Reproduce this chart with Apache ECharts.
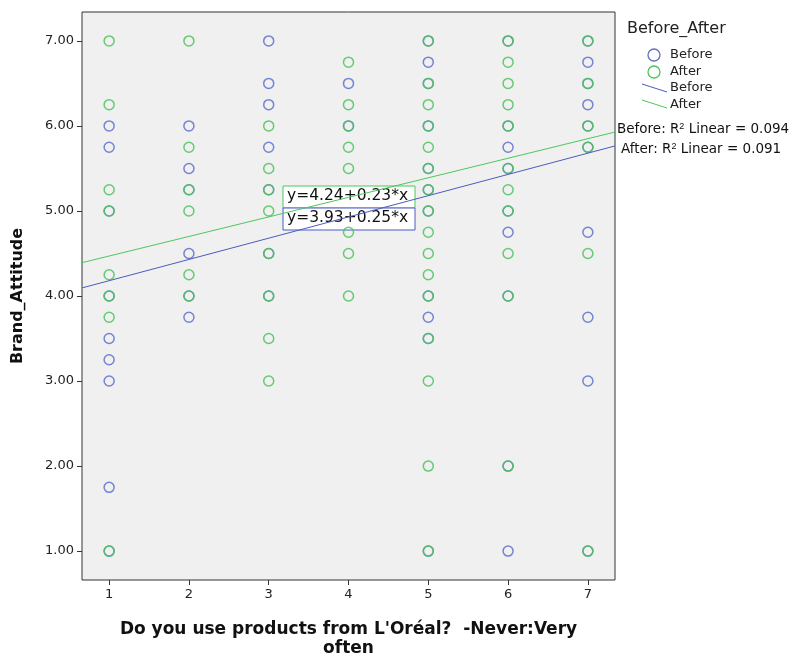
<!DOCTYPE html>
<html><head><meta charset="utf-8">
<script src="https://cdn.jsdelivr.net/npm/echarts@6/dist/echarts.min.js"></script>
<style>html,body{margin:0;padding:0;background:#fff}#c{width:799px;height:657px}</style>
</head><body><div id="c"></div>
<script>
// x = usage frequency (1..7), y = Brand_Attitude
const beforeX = [1,1,1,1,1,1,1,1,1, 2,2,2,2,2,2, 3,3,3,3,3,3,3, 4,4, 5,5,5,5,5,5,5,5,5,5,5, 6,6,6,6,6,6,6,6,6, 7,7,7,7,7,7,7,7,7,7];
const beforeY = [6.0,5.75,5.0,4.0,3.5,3.25,3.0,1.75,1.0, 6.0,5.5,5.25,4.5,4.0,3.75, 7.0,6.5,6.25,5.75,5.25,4.5,4.0, 6.5,6.0, 7.0,6.75,6.5,6.0,5.5,5.25,5.0,4.0,3.75,3.5,1.0, 7.0,6.0,5.75,5.5,5.0,4.75,4.0,2.0,1.0, 7.0,6.75,6.5,6.25,6.0,5.75,4.75,3.75,3.0,1.0];
const afterX = [1,1,1,1,1,1,1,1, 2,2,2,2,2,2, 3,3,3,3,3,3,3,3, 4,4,4,4,4,4,4,4, 5,5,5,5,5,5,5,5,5,5,5,5,5,5,5,5, 6,6,6,6,6,6,6,6,6,6,6, 7,7,7,7,7,7];
const afterY = [7.0,6.25,5.25,5.0,4.25,4.0,3.75,1.0, 7.0,5.75,5.25,5.0,4.25,4.0, 6.0,5.5,5.25,5.0,4.5,4.0,3.5,3.0, 6.75,6.25,6.0,5.75,5.5,4.75,4.5,4.0, 7.0,6.5,6.25,6.0,5.75,5.5,5.25,5.0,4.75,4.5,4.25,4.0,3.5,3.0,2.0,1.0, 7.0,6.75,6.5,6.25,6.0,5.5,5.25,5.0,4.5,4.0,2.0, 7.0,6.5,6.0,5.75,4.5,1.0];
const fitBefore = [3.93, 0.25]; // intercept, slope
const fitAfter = [4.24, 0.23];
const xTicks = [1,2,3,4,5,6,7];
const yTicks = [1,2,3,4,5,6,7];
const r2Labels = ['Before: R{s|2} Linear = 0.094', 'After: R{s|2} Linear = 0.091'];
const eqLabels = ['y=4.24+0.23*x', 'y=3.93+0.25*x'];

const XMIN = 0.66, XMAX = 7.34;
const blue = '#5f70cc', green = '#4cc45a';
const font = 'DejaVu Sans';
const zip = (a,b)=>a.map((v,i)=>[v,b[i]]);
const fitLine = f => [[XMIN, f[0]+f[1]*XMIN],[XMAX, f[0]+f[1]*XMAX]];

const chart = echarts.init(document.getElementById('c'));
chart.setOption({
  animation:false,
  backgroundColor:'#fff',
  grid:{left:82,right:184,top:12,bottom:77,outerBoundsMode:'none',containLabel:false,show:true,backgroundColor:'#f0f0f0',borderColor:'#333',borderWidth:1},
  xAxis:{type:'value',min:XMIN,max:XMAX,
    axisLine:{show:false},splitLine:{show:false},
    axisTick:{show:true,customValues:xTicks,length:5,lineStyle:{color:'#333'}},
    axisLabel:{customValues:xTicks,color:'#222',fontFamily:font,fontSize:13,margin:8},
    name:"Do you use products from L'Oréal?  -Never:Very\noften",nameLocation:'middle',nameGap:40,
    nameTextStyle:{fontFamily:font,fontWeight:'bold',fontSize:17,color:'#111',lineHeight:19}},
  yAxis:{type:'value',min:0.66,max:7.34,
    axisLine:{show:false},splitLine:{show:false},
    axisTick:{show:true,customValues:yTicks,length:5,lineStyle:{color:'#333'}},
    axisLabel:{customValues:yTicks,color:'#222',fontFamily:font,fontSize:13,margin:8,formatter:v=>v.toFixed(2)},
    name:'Brand_Attitude',nameLocation:'middle',nameGap:56,
    nameTextStyle:{fontFamily:font,fontWeight:'bold',fontSize:16,color:'#111'}},
  series:[
    {type:'scatter',name:'Before',data:zip(beforeX,beforeY),symbol:'circle',symbolSize:10,
      itemStyle:{color:'rgba(0,0,0,0)',borderColor:blue,borderWidth:1.5,opacity:0.85}},
    {type:'scatter',name:'After',data:zip(afterX,afterY),symbol:'circle',symbolSize:10,
      itemStyle:{color:'rgba(0,0,0,0)',borderColor:green,borderWidth:1.5,opacity:0.85}},
    {type:'line',data:fitLine(fitBefore),symbol:'none',lineStyle:{color:'#4a5cc0',width:1},silent:true},
    {type:'line',data:fitLine(fitAfter),symbol:'none',lineStyle:{color:'#4cc85c',width:1},silent:true}
  ],
  graphic:[
    {type:'text',left:627,top:21,style:{text:'Before_After',font:'16px '+font,fill:'#222'}},
    {type:'circle',shape:{cx:654,cy:55,r:6},style:{fill:'none',stroke:blue,lineWidth:1.3}},
    {type:'text',left:670,top:48,style:{text:'Before',font:'13px '+font,fill:'#222'}},
    {type:'circle',shape:{cx:654,cy:72,r:6},style:{fill:'none',stroke:green,lineWidth:1.3}},
    {type:'text',left:670,top:65,style:{text:'After',font:'13px '+font,fill:'#222'}},
    {type:'line',shape:{x1:642,y1:84,x2:667,y2:92},style:{stroke:'#4a5cc0',lineWidth:1}},
    {type:'text',left:670,top:81,style:{text:'Before',font:'13px '+font,fill:'#222'}},
    {type:'line',shape:{x1:642,y1:100,x2:667,y2:108},style:{stroke:'#4cc85c',lineWidth:1}},
    {type:'text',left:670,top:98,style:{text:'After',font:'13px '+font,fill:'#222'}},
    {type:'text',left:617,top:122,style:{text:r2Labels[0],font:'13.5px '+font,fill:'#111',rich:{s:{fontSize:9,verticalAlign:'top',padding:[0,0,6,0]}}}},
    {type:'text',left:621,top:142,style:{text:r2Labels[1],font:'13.5px '+font,fill:'#111',rich:{s:{fontSize:9,verticalAlign:'top',padding:[0,0,6,0]}}}},
    {type:'rect',shape:{x:283,y:186,width:132,height:22},style:{fill:'#fff',stroke:'#4cc85c',lineWidth:1}},
    {type:'rect',shape:{x:283,y:208,width:132,height:22},style:{fill:'#fff',stroke:'#4a5cc0',lineWidth:1}},
    {type:'text',left:287,top:188,style:{text:eqLabels[0],font:'15.5px '+font,fill:'#111'}},
    {type:'text',left:287,top:210,style:{text:eqLabels[1],font:'15.5px '+font,fill:'#111'}}
  ]
});
</script></body></html>
